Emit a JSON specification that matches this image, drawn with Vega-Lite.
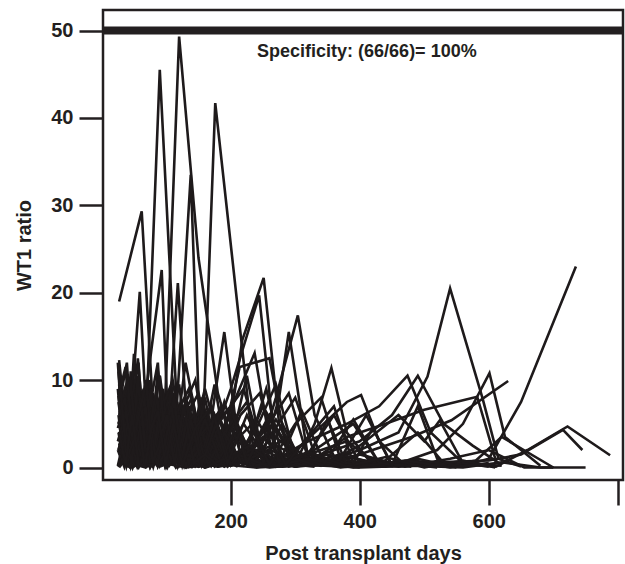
{
"$schema": "https://vega.github.io/schema/vega-lite/v6.json",
"width": 520, "height": 470,
"autosize": "none",
"padding": {"left": 103, "top": 10, "right": 2, "bottom": 84},
"background": "white",
"config": {"view": {"stroke": "#231f20", "strokeWidth": 2.5}, "font": "Liberation Sans"},
"datasets": {
"threshold": [{"cut": 50, "label": "Specificity: (66/66)= 100%"}],
"wt1": [
{"p":1,"d":27,"v":4.1},{"p":1,"d":41,"v":0.5},{"p":1,"d":55,"v":6.0},{"p":1,"d":69,"v":0.2},{"p":1,"d":83,"v":1.5},{"p":1,"d":97,"v":5.0},{"p":1,"d":120,"v":49.3},{"p":1,"d":150,"v":24.0},{"p":1,"d":180,"v":8.5},{"p":1,"d":210,"v":1.0},{"p":1,"d":240,"v":0.2},{"p":1,"d":300,"v":0.5},
{"p":2,"d":26,"v":8.2},{"p":2,"d":40,"v":0.3},{"p":2,"d":54,"v":5.5},{"p":2,"d":67,"v":2.0},{"p":2,"d":90,"v":45.5},{"p":2,"d":121,"v":0.5},{"p":2,"d":150,"v":6.0},{"p":2,"d":180,"v":0.2},{"p":2,"d":240,"v":0.8},{"p":2,"d":330,"v":0.1},
{"p":3,"d":28,"v":3.0},{"p":3,"d":42,"v":6.5},{"p":3,"d":56,"v":0.4},{"p":3,"d":70,"v":4.0},{"p":3,"d":90,"v":7.5},{"p":3,"d":120,"v":1.0},{"p":3,"d":155,"v":0.3},{"p":3,"d":176,"v":41.7},{"p":3,"d":235,"v":2.0},{"p":3,"d":260,"v":0.3},{"p":3,"d":320,"v":0.6},{"p":3,"d":400,"v":0.1},
{"p":4,"d":27,"v":6.0},{"p":4,"d":41,"v":9.5},{"p":4,"d":55,"v":1.4},{"p":4,"d":69,"v":7.2},{"p":4,"d":83,"v":0.3},{"p":4,"d":97,"v":5.1},{"p":4,"d":111,"v":0.4},{"p":4,"d":138,"v":33.5},{"p":4,"d":152,"v":4.0},{"p":4,"d":180,"v":6.2},{"p":4,"d":210,"v":0.5},{"p":4,"d":270,"v":1.0},
{"p":5,"d":27,"v":19.0},{"p":5,"d":62,"v":29.3},{"p":5,"d":80,"v":6.0},{"p":5,"d":95,"v":9.0},{"p":5,"d":110,"v":0.5},{"p":5,"d":130,"v":5.5},{"p":5,"d":160,"v":0.2},{"p":5,"d":200,"v":4.5},{"p":5,"d":250,"v":0.3},
{"p":6,"d":26,"v":5.0},{"p":6,"d":40,"v":8.0},{"p":6,"d":55,"v":0.5},{"p":6,"d":70,"v":9.5},{"p":6,"d":93,"v":22.6},{"p":6,"d":105,"v":1.0},{"p":6,"d":120,"v":7.0},{"p":6,"d":150,"v":0.5},{"p":6,"d":190,"v":1.8},{"p":6,"d":240,"v":0.1},
{"p":7,"d":28,"v":10.0},{"p":7,"d":42,"v":1.0},{"p":7,"d":56,"v":12.5},{"p":7,"d":70,"v":0.5},{"p":7,"d":85,"v":8.0},{"p":7,"d":100,"v":0.4},{"p":7,"d":118,"v":21.1},{"p":7,"d":135,"v":1.5},{"p":7,"d":160,"v":9.0},{"p":7,"d":190,"v":0.6},{"p":7,"d":230,"v":2.0},{"p":7,"d":280,"v":0.2},
{"p":8,"d":27,"v":12.3},{"p":8,"d":41,"v":2.0},{"p":8,"d":59,"v":20.1},{"p":8,"d":73,"v":0.5},{"p":8,"d":87,"v":11.0},{"p":8,"d":101,"v":0.5},{"p":8,"d":115,"v":7.0},{"p":8,"d":140,"v":0.3},{"p":8,"d":175,"v":5.0},{"p":8,"d":220,"v":0.2},
{"p":9,"d":30,"v":4.0},{"p":9,"d":44,"v":7.0},{"p":9,"d":58,"v":0.5},{"p":9,"d":72,"v":6.0},{"p":9,"d":90,"v":0.8},{"p":9,"d":110,"v":8.5},{"p":9,"d":135,"v":1.0},{"p":9,"d":160,"v":6.5},{"p":9,"d":190,"v":0.5},{"p":9,"d":218,"v":14.6},{"p":9,"d":251,"v":21.7},{"p":9,"d":275,"v":5.0},{"p":9,"d":300,"v":0.5},{"p":9,"d":340,"v":0.2},
{"p":10,"d":29,"v":0.5},{"p":10,"d":43,"v":5.5},{"p":10,"d":57,"v":9.0},{"p":10,"d":71,"v":0.6},{"p":10,"d":85,"v":6.0},{"p":10,"d":105,"v":0.5},{"p":10,"d":130,"v":7.5},{"p":10,"d":160,"v":0.5},{"p":10,"d":200,"v":9.0},{"p":10,"d":244,"v":19.7},{"p":10,"d":270,"v":1.5},{"p":10,"d":310,"v":0.3},
{"p":11,"d":28,"v":6.5},{"p":11,"d":42,"v":0.5},{"p":11,"d":56,"v":8.0},{"p":11,"d":70,"v":1.5},{"p":11,"d":90,"v":10.5},{"p":11,"d":110,"v":0.5},{"p":11,"d":130,"v":12.0},{"p":11,"d":160,"v":0.5},{"p":11,"d":190,"v":15.5},{"p":11,"d":215,"v":1.0},{"p":11,"d":250,"v":7.0},{"p":11,"d":300,"v":0.5},{"p":11,"d":360,"v":0.2},
{"p":12,"d":30,"v":3.5},{"p":12,"d":44,"v":0.3},{"p":12,"d":60,"v":6.0},{"p":12,"d":80,"v":0.5},{"p":12,"d":100,"v":5.0},{"p":12,"d":130,"v":8.0},{"p":12,"d":160,"v":0.5},{"p":12,"d":200,"v":6.0},{"p":12,"d":240,"v":0.5},{"p":12,"d":270,"v":8.0},{"p":12,"d":304,"v":17.4},{"p":12,"d":330,"v":6.0},{"p":12,"d":365,"v":0.5},{"p":12,"d":420,"v":0.8},{"p":12,"d":480,"v":0.1},
{"p":13,"d":27,"v":1.5},{"p":13,"d":41,"v":4.0},{"p":13,"d":55,"v":0.2},{"p":13,"d":69,"v":5.5},{"p":13,"d":90,"v":0.5},{"p":13,"d":120,"v":6.5},{"p":13,"d":150,"v":0.5},{"p":13,"d":180,"v":5.0},{"p":13,"d":220,"v":9.0},{"p":13,"d":250,"v":1.5},{"p":13,"d":275,"v":8.0},{"p":13,"d":290,"v":15.5},{"p":13,"d":320,"v":1.0},{"p":13,"d":370,"v":0.2},{"p":13,"d":430,"v":0.4},
{"p":14,"d":29,"v":0.2},{"p":14,"d":43,"v":3.5},{"p":14,"d":57,"v":0.3},{"p":14,"d":71,"v":4.0},{"p":14,"d":90,"v":0.5},{"p":14,"d":120,"v":5.0},{"p":14,"d":150,"v":0.3},{"p":14,"d":180,"v":4.5},{"p":14,"d":220,"v":0.5},{"p":14,"d":260,"v":6.0},{"p":14,"d":300,"v":0.5},{"p":14,"d":330,"v":5.0},{"p":14,"d":356,"v":11.4},{"p":14,"d":380,"v":4.0},{"p":14,"d":420,"v":0.3},{"p":14,"d":480,"v":0.5},
{"p":15,"d":31,"v":2.5},{"p":15,"d":45,"v":5.0},{"p":15,"d":59,"v":0.3},{"p":15,"d":73,"v":4.0},{"p":15,"d":90,"v":0.5},{"p":15,"d":120,"v":3.5},{"p":15,"d":150,"v":0.2},{"p":15,"d":180,"v":3.0},{"p":15,"d":220,"v":0.5},{"p":15,"d":270,"v":2.5},{"p":15,"d":330,"v":0.3},{"p":15,"d":400,"v":2.0},{"p":15,"d":460,"v":4.0},{"p":15,"d":505,"v":10.4},{"p":15,"d":540,"v":20.5},{"p":15,"d":590,"v":8.0},{"p":15,"d":615,"v":1.0},{"p":15,"d":650,"v":0.1},
{"p":16,"d":28,"v":1.2},{"p":16,"d":42,"v":3.0},{"p":16,"d":56,"v":0.2},{"p":16,"d":70,"v":2.5},{"p":16,"d":90,"v":0.3},{"p":16,"d":120,"v":2.0},{"p":16,"d":160,"v":0.2},{"p":16,"d":200,"v":1.5},{"p":16,"d":260,"v":0.2},{"p":16,"d":330,"v":1.0},{"p":16,"d":400,"v":0.1},{"p":16,"d":480,"v":0.8},{"p":16,"d":560,"v":0.2},{"p":16,"d":600,"v":1.0},{"p":16,"d":650,"v":7.5},{"p":16,"d":735,"v":23.0},
{"p":17,"d":30,"v":3.0},{"p":17,"d":44,"v":6.0},{"p":17,"d":58,"v":0.3},{"p":17,"d":72,"v":5.0},{"p":17,"d":90,"v":0.5},{"p":17,"d":120,"v":4.0},{"p":17,"d":160,"v":0.5},{"p":17,"d":200,"v":3.5},{"p":17,"d":260,"v":0.5},{"p":17,"d":320,"v":3.0},{"p":17,"d":380,"v":5.0},{"p":17,"d":430,"v":7.0},{"p":17,"d":474,"v":10.5},{"p":17,"d":510,"v":4.0},{"p":17,"d":560,"v":0.5},{"p":17,"d":620,"v":0.2},
{"p":18,"d":27,"v":0.2},{"p":18,"d":41,"v":2.0},{"p":18,"d":55,"v":0.1},{"p":18,"d":69,"v":3.0},{"p":18,"d":90,"v":0.3},{"p":18,"d":130,"v":2.5},{"p":18,"d":170,"v":0.2},{"p":18,"d":220,"v":2.0},{"p":18,"d":280,"v":0.2},{"p":18,"d":340,"v":1.5},{"p":18,"d":400,"v":3.0},{"p":18,"d":450,"v":6.0},{"p":18,"d":490,"v":10.5},{"p":18,"d":530,"v":5.0},{"p":18,"d":575,"v":2.5},{"p":18,"d":620,"v":0.3},
{"p":19,"d":29,"v":1.0},{"p":19,"d":43,"v":3.5},{"p":19,"d":57,"v":0.2},{"p":19,"d":71,"v":2.5},{"p":19,"d":90,"v":0.2},{"p":19,"d":130,"v":2.0},{"p":19,"d":180,"v":0.1},{"p":19,"d":240,"v":1.5},{"p":19,"d":300,"v":0.1},{"p":19,"d":380,"v":1.2},{"p":19,"d":450,"v":0.2},{"p":19,"d":520,"v":2.0},{"p":19,"d":560,"v":5.0},{"p":19,"d":601,"v":10.8},{"p":19,"d":625,"v":3.5},{"p":19,"d":680,"v":0.2},
{"p":20,"d":30,"v":2.0},{"p":20,"d":44,"v":0.2},{"p":20,"d":58,"v":3.0},{"p":20,"d":72,"v":0.3},{"p":20,"d":90,"v":2.5},{"p":20,"d":130,"v":0.3},{"p":20,"d":170,"v":2.0},{"p":20,"d":230,"v":0.2},{"p":20,"d":290,"v":1.5},{"p":20,"d":350,"v":0.2},{"p":20,"d":420,"v":2.0},{"p":20,"d":480,"v":3.5},{"p":20,"d":542,"v":5.4},{"p":20,"d":630,"v":9.9},
{"p":21,"d":28,"v":0.5},{"p":21,"d":42,"v":1.5},{"p":21,"d":56,"v":0.1},{"p":21,"d":70,"v":1.0},{"p":21,"d":90,"v":0.1},{"p":21,"d":130,"v":1.2},{"p":21,"d":180,"v":0.1},{"p":21,"d":240,"v":0.8},{"p":21,"d":300,"v":0.1},{"p":21,"d":380,"v":0.6},{"p":21,"d":460,"v":0.1},{"p":21,"d":540,"v":0.5},{"p":21,"d":611,"v":0.1},{"p":21,"d":660,"v":2.0},{"p":21,"d":722,"v":4.7},{"p":21,"d":788,"v":1.4},
{"p":22,"d":31,"v":1.0},{"p":22,"d":45,"v":0.1},{"p":22,"d":59,"v":1.8},{"p":22,"d":73,"v":0.2},{"p":22,"d":100,"v":1.2},{"p":22,"d":150,"v":0.1},{"p":22,"d":210,"v":1.0},{"p":22,"d":280,"v":0.1},{"p":22,"d":360,"v":0.7},{"p":22,"d":440,"v":0.1},{"p":22,"d":520,"v":0.6},{"p":22,"d":600,"v":0.8},{"p":22,"d":650,"v":1.5},{"p":22,"d":715,"v":4.3},{"p":22,"d":745,"v":2.0},
{"p":23,"d":27,"v":0.8},{"p":23,"d":41,"v":0.1},{"p":23,"d":55,"v":1.0},{"p":23,"d":69,"v":0.1},{"p":23,"d":90,"v":0.6},{"p":23,"d":130,"v":0.0},{"p":23,"d":180,"v":0.4},{"p":23,"d":240,"v":0.0},{"p":23,"d":320,"v":0.3},{"p":23,"d":400,"v":0.0},{"p":23,"d":480,"v":0.2},{"p":23,"d":560,"v":0.0},{"p":23,"d":620,"v":0.6},{"p":23,"d":680,"v":0.0},{"p":23,"d":750,"v":0.0},
{"p":24,"d":29,"v":2.5},{"p":24,"d":43,"v":0.2},{"p":24,"d":57,"v":3.5},{"p":24,"d":71,"v":0.3},{"p":24,"d":100,"v":2.0},{"p":24,"d":150,"v":0.2},{"p":24,"d":200,"v":1.5},{"p":24,"d":270,"v":0.1},{"p":24,"d":340,"v":1.0},{"p":24,"d":410,"v":0.1},{"p":24,"d":470,"v":0.6},{"p":24,"d":530,"v":0.1},{"p":24,"d":580,"v":0.8},{"p":24,"d":620,"v":3.5},{"p":24,"d":700,"v":0.0},
{"p":25,"d":30,"v":1.5},{"p":25,"d":44,"v":4.0},{"p":25,"d":58,"v":0.2},{"p":25,"d":72,"v":3.0},{"p":25,"d":100,"v":0.3},{"p":25,"d":150,"v":2.5},{"p":25,"d":200,"v":0.2},{"p":25,"d":260,"v":2.0},{"p":25,"d":330,"v":0.2},{"p":25,"d":400,"v":1.5},{"p":25,"d":470,"v":0.1},{"p":25,"d":540,"v":1.0},{"p":25,"d":600,"v":2.0},{"p":25,"d":655,"v":0.0},{"p":25,"d":700,"v":0.0},
{"p":26,"d":28,"v":4.5},{"p":26,"d":40,"v":0.5},{"p":26,"d":52,"v":7.0},{"p":26,"d":64,"v":1.0},{"p":26,"d":76,"v":5.5},{"p":26,"d":90,"v":0.3},{"p":26,"d":110,"v":4.0},{"p":26,"d":140,"v":0.5},{"p":26,"d":170,"v":5.0},{"p":26,"d":210,"v":0.5},{"p":26,"d":260,"v":4.0},{"p":26,"d":320,"v":0.5},{"p":26,"d":380,"v":3.5},{"p":26,"d":440,"v":5.0},{"p":26,"d":500,"v":6.6},{"p":26,"d":582,"v":8.1},{"p":26,"d":612,"v":0.5},
{"p":27,"d":26,"v":7.5},{"p":27,"d":38,"v":1.0},{"p":27,"d":50,"v":9.0},{"p":27,"d":62,"v":2.0},{"p":27,"d":74,"v":10.0},{"p":27,"d":86,"v":1.0},{"p":27,"d":100,"v":8.0},{"p":27,"d":120,"v":1.0},{"p":27,"d":150,"v":6.0},{"p":27,"d":180,"v":1.0},{"p":27,"d":214,"v":11.5},{"p":27,"d":260,"v":12.5},{"p":27,"d":290,"v":1.0},{"p":27,"d":330,"v":1.5},{"p":27,"d":380,"v":0.2},
{"p":28,"d":25,"v":9.0},{"p":28,"d":35,"v":0.5},{"p":28,"d":45,"v":11.0},{"p":28,"d":55,"v":1.5},{"p":28,"d":65,"v":8.0},{"p":28,"d":75,"v":0.5},{"p":28,"d":88,"v":6.0},{"p":28,"d":102,"v":1.0},{"p":28,"d":120,"v":7.0},{"p":28,"d":150,"v":0.5},{"p":28,"d":185,"v":4.0},{"p":28,"d":237,"v":13.1},{"p":28,"d":265,"v":1.0},{"p":28,"d":300,"v":0.2},
{"p":29,"d":27,"v":5.5},{"p":29,"d":37,"v":8.5},{"p":29,"d":47,"v":0.5},{"p":29,"d":57,"v":6.5},{"p":29,"d":67,"v":0.3},{"p":29,"d":77,"v":7.0},{"p":29,"d":90,"v":1.0},{"p":29,"d":105,"v":9.0},{"p":29,"d":122,"v":0.5},{"p":29,"d":145,"v":5.5},{"p":29,"d":175,"v":0.5},{"p":29,"d":210,"v":1.0},
{"p":30,"d":26,"v":3.0},{"p":30,"d":36,"v":6.0},{"p":30,"d":46,"v":0.2},{"p":30,"d":56,"v":4.5},{"p":30,"d":66,"v":7.5},{"p":30,"d":76,"v":0.5},{"p":30,"d":86,"v":5.0},{"p":30,"d":98,"v":0.2},{"p":30,"d":115,"v":3.5},{"p":30,"d":140,"v":0.3},{"p":30,"d":170,"v":3.0},{"p":30,"d":200,"v":0.2},
{"p":31,"d":30,"v":10.5},{"p":31,"d":40,"v":1.0},{"p":31,"d":50,"v":13.0},{"p":31,"d":60,"v":2.0},{"p":31,"d":70,"v":9.5},{"p":31,"d":80,"v":0.5},{"p":31,"d":95,"v":7.0},{"p":31,"d":110,"v":10.0},{"p":31,"d":130,"v":1.0},{"p":31,"d":155,"v":8.0},{"p":31,"d":180,"v":0.5},{"p":31,"d":220,"v":5.0},{"p":31,"d":260,"v":0.5},
{"p":32,"d":25,"v":0.2},{"p":32,"d":35,"v":3.5},{"p":32,"d":45,"v":0.1},{"p":32,"d":55,"v":2.5},{"p":32,"d":65,"v":5.0},{"p":32,"d":75,"v":0.2},{"p":32,"d":85,"v":3.0},{"p":32,"d":100,"v":6.5},{"p":32,"d":120,"v":0.3},{"p":32,"d":150,"v":4.0},{"p":32,"d":190,"v":0.2},{"p":32,"d":240,"v":2.5},{"p":32,"d":300,"v":0.1},{"p":32,"d":370,"v":1.5},{"p":32,"d":440,"v":0.1},
{"p":33,"d":28,"v":6.0},{"p":33,"d":38,"v":0.5},{"p":33,"d":48,"v":8.5},{"p":33,"d":58,"v":1.0},{"p":33,"d":68,"v":6.5},{"p":33,"d":78,"v":0.2},{"p":33,"d":90,"v":4.5},{"p":33,"d":105,"v":0.5},{"p":33,"d":125,"v":5.0},{"p":33,"d":150,"v":8.5},{"p":33,"d":175,"v":1.0},{"p":33,"d":205,"v":6.0},{"p":33,"d":235,"v":0.5},{"p":33,"d":270,"v":4.5},{"p":33,"d":310,"v":0.3},
{"p":34,"d":27,"v":2.5},{"p":34,"d":37,"v":5.0},{"p":34,"d":47,"v":0.3},{"p":34,"d":57,"v":7.0},{"p":34,"d":67,"v":0.5},{"p":34,"d":77,"v":5.5},{"p":34,"d":90,"v":0.3},{"p":34,"d":110,"v":6.0},{"p":34,"d":135,"v":0.3},{"p":34,"d":165,"v":4.0},{"p":34,"d":200,"v":7.0},{"p":34,"d":230,"v":0.5},{"p":34,"d":270,"v":5.5},{"p":34,"d":310,"v":0.5},{"p":34,"d":360,"v":6.0},{"p":34,"d":400,"v":0.5},{"p":34,"d":450,"v":0.2},
{"p":35,"d":26,"v":4.0},{"p":35,"d":36,"v":0.2},{"p":35,"d":46,"v":5.5},{"p":35,"d":56,"v":0.3},{"p":35,"d":66,"v":4.5},{"p":35,"d":76,"v":0.1},{"p":35,"d":86,"v":3.5},{"p":35,"d":100,"v":0.2},{"p":35,"d":120,"v":2.5},{"p":35,"d":145,"v":0.1},{"p":35,"d":175,"v":2.0},{"p":35,"d":210,"v":0.1},
{"p":36,"d":29,"v":8.0},{"p":36,"d":39,"v":12.0},{"p":36,"d":49,"v":1.0},{"p":36,"d":59,"v":9.0},{"p":36,"d":69,"v":0.5},{"p":36,"d":79,"v":8.5},{"p":36,"d":91,"v":0.5},{"p":36,"d":104,"v":6.0},{"p":36,"d":118,"v":0.3},{"p":36,"d":135,"v":5.0},{"p":36,"d":160,"v":0.3},
{"p":37,"d":25,"v":2.0},{"p":37,"d":35,"v":0.1},{"p":37,"d":45,"v":3.0},{"p":37,"d":55,"v":0.2},{"p":37,"d":65,"v":2.5},{"p":37,"d":75,"v":0.0},{"p":37,"d":85,"v":1.5},{"p":37,"d":100,"v":0.1},{"p":37,"d":120,"v":2.0},{"p":37,"d":150,"v":0.1},{"p":37,"d":190,"v":1.5},{"p":37,"d":240,"v":0.0},{"p":37,"d":300,"v":1.0},{"p":37,"d":370,"v":0.0},{"p":37,"d":450,"v":0.6},{"p":37,"d":520,"v":0.0},
{"p":38,"d":30,"v":5.0},{"p":38,"d":40,"v":8.0},{"p":38,"d":50,"v":0.5},{"p":38,"d":60,"v":6.0},{"p":38,"d":70,"v":0.2},{"p":38,"d":80,"v":4.5},{"p":38,"d":95,"v":8.0},{"p":38,"d":110,"v":0.5},{"p":38,"d":130,"v":7.5},{"p":38,"d":150,"v":0.5},{"p":38,"d":175,"v":9.5},{"p":38,"d":195,"v":1.0},{"p":38,"d":225,"v":10.5},{"p":38,"d":250,"v":1.0},{"p":38,"d":280,"v":0.2},
{"p":39,"d":27,"v":3.5},{"p":39,"d":37,"v":0.2},{"p":39,"d":47,"v":4.5},{"p":39,"d":57,"v":0.1},{"p":39,"d":67,"v":3.0},{"p":39,"d":77,"v":5.5},{"p":39,"d":90,"v":0.3},{"p":39,"d":105,"v":4.0},{"p":39,"d":125,"v":0.2},{"p":39,"d":150,"v":3.0},{"p":39,"d":180,"v":6.0},{"p":39,"d":210,"v":0.5},{"p":39,"d":250,"v":4.0},{"p":39,"d":290,"v":8.5},{"p":39,"d":320,"v":1.0},{"p":39,"d":350,"v":5.5},{"p":39,"d":380,"v":0.3},
{"p":40,"d":26,"v":11.0},{"p":40,"d":36,"v":2.5},{"p":40,"d":46,"v":9.5},{"p":40,"d":56,"v":0.5},{"p":40,"d":66,"v":7.0},{"p":40,"d":76,"v":10.0},{"p":40,"d":86,"v":1.0},{"p":40,"d":98,"v":6.5},{"p":40,"d":112,"v":0.3},{"p":40,"d":130,"v":4.5},{"p":40,"d":150,"v":0.2},
{"p":41,"d":28,"v":0.2},{"p":41,"d":38,"v":2.5},{"p":41,"d":48,"v":0.0},{"p":41,"d":58,"v":1.8},{"p":41,"d":68,"v":4.0},{"p":41,"d":78,"v":0.2},{"p":41,"d":88,"v":3.0},{"p":41,"d":100,"v":0.1},{"p":41,"d":118,"v":2.5},{"p":41,"d":140,"v":0.1},{"p":41,"d":170,"v":3.5},{"p":41,"d":200,"v":0.2},{"p":41,"d":240,"v":2.0},{"p":41,"d":290,"v":0.1},{"p":41,"d":350,"v":1.5},{"p":41,"d":420,"v":0.1},{"p":41,"d":490,"v":1.0},{"p":41,"d":550,"v":0.0},
{"p":42,"d":31,"v":6.5},{"p":42,"d":41,"v":0.5},{"p":42,"d":51,"v":7.5},{"p":42,"d":61,"v":0.3},{"p":42,"d":71,"v":5.0},{"p":42,"d":81,"v":8.0},{"p":42,"d":93,"v":0.5},{"p":42,"d":106,"v":5.5},{"p":42,"d":120,"v":9.5},{"p":42,"d":135,"v":0.5},{"p":42,"d":155,"v":6.0},{"p":42,"d":180,"v":0.5},{"p":42,"d":210,"v":4.0},{"p":42,"d":240,"v":0.2},
{"p":43,"d":25,"v":4.5},{"p":43,"d":35,"v":7.0},{"p":43,"d":45,"v":0.3},{"p":43,"d":55,"v":5.0},{"p":43,"d":65,"v":9.0},{"p":43,"d":75,"v":0.5},{"p":43,"d":85,"v":6.0},{"p":43,"d":95,"v":0.2},{"p":43,"d":110,"v":5.0},{"p":43,"d":130,"v":0.3},{"p":43,"d":150,"v":4.5},{"p":43,"d":175,"v":0.2},{"p":43,"d":200,"v":3.0},
{"p":44,"d":27,"v":1.5},{"p":44,"d":37,"v":4.0},{"p":44,"d":47,"v":6.5},{"p":44,"d":57,"v":0.2},{"p":44,"d":67,"v":4.0},{"p":44,"d":77,"v":0.1},{"p":44,"d":87,"v":2.5},{"p":44,"d":100,"v":5.0},{"p":44,"d":120,"v":0.2},{"p":44,"d":145,"v":3.5},{"p":44,"d":170,"v":0.2},{"p":44,"d":200,"v":2.5},{"p":44,"d":240,"v":5.5},{"p":44,"d":280,"v":0.5},{"p":44,"d":330,"v":4.0},{"p":44,"d":380,"v":7.5},{"p":44,"d":402,"v":8.3},{"p":44,"d":430,"v":3.0},{"p":44,"d":470,"v":0.3},
{"p":45,"d":29,"v":7.0},{"p":45,"d":39,"v":1.5},{"p":45,"d":49,"v":10.0},{"p":45,"d":59,"v":2.0},{"p":45,"d":69,"v":0.5},{"p":45,"d":79,"v":7.5},{"p":45,"d":89,"v":1.0},{"p":45,"d":100,"v":0.3},{"p":45,"d":115,"v":6.0},{"p":45,"d":135,"v":9.0},{"p":45,"d":160,"v":1.0},{"p":45,"d":185,"v":7.0},{"p":45,"d":210,"v":0.5},{"p":45,"d":245,"v":1.5},
{"p":46,"d":26,"v":2.0},{"p":46,"d":36,"v":4.5},{"p":46,"d":46,"v":0.1},{"p":46,"d":56,"v":3.5},{"p":46,"d":66,"v":6.0},{"p":46,"d":76,"v":0.3},{"p":46,"d":86,"v":4.5},{"p":46,"d":96,"v":7.0},{"p":46,"d":108,"v":0.5},{"p":46,"d":125,"v":5.0},{"p":46,"d":150,"v":0.3},{"p":46,"d":175,"v":4.0},{"p":46,"d":210,"v":0.2},{"p":46,"d":250,"v":3.5},{"p":46,"d":290,"v":0.2},{"p":46,"d":340,"v":2.5},{"p":46,"d":390,"v":5.0},{"p":46,"d":430,"v":0.5},{"p":46,"d":480,"v":0.2},
{"p":47,"d":28,"v":5.0},{"p":47,"d":38,"v":9.5},{"p":47,"d":48,"v":1.0},{"p":47,"d":58,"v":7.0},{"p":47,"d":68,"v":0.5},{"p":47,"d":78,"v":6.0},{"p":47,"d":88,"v":0.2},{"p":47,"d":100,"v":4.5},{"p":47,"d":112,"v":8.5},{"p":47,"d":125,"v":0.5},{"p":47,"d":140,"v":6.0},{"p":47,"d":165,"v":0.3},
{"p":48,"d":25,"v":0.1},{"p":48,"d":35,"v":1.5},{"p":48,"d":45,"v":0.0},{"p":48,"d":55,"v":1.0},{"p":48,"d":65,"v":2.5},{"p":48,"d":75,"v":0.1},{"p":48,"d":85,"v":1.8},{"p":48,"d":100,"v":0.0},{"p":48,"d":125,"v":1.2},{"p":48,"d":160,"v":0.0},{"p":48,"d":200,"v":0.9},{"p":48,"d":260,"v":0.0},{"p":48,"d":330,"v":0.5},{"p":48,"d":400,"v":0.0},
{"p":49,"d":30,"v":3.0},{"p":49,"d":40,"v":6.0},{"p":49,"d":50,"v":0.2},{"p":49,"d":60,"v":8.0},{"p":49,"d":70,"v":1.0},{"p":49,"d":80,"v":6.5},{"p":49,"d":92,"v":0.3},{"p":49,"d":104,"v":5.5},{"p":49,"d":118,"v":0.2},{"p":49,"d":135,"v":4.0},{"p":49,"d":155,"v":7.0},{"p":49,"d":180,"v":0.5},{"p":49,"d":205,"v":5.5},{"p":49,"d":235,"v":0.3},{"p":49,"d":265,"v":4.0},{"p":49,"d":300,"v":8.0},{"p":49,"d":335,"v":0.5},{"p":49,"d":370,"v":0.2},
{"p":50,"d":27,"v":9.5},{"p":50,"d":37,"v":1.5},{"p":50,"d":47,"v":8.0},{"p":50,"d":57,"v":12.0},{"p":50,"d":67,"v":1.0},{"p":50,"d":77,"v":3.5},{"p":50,"d":87,"v":7.0},{"p":50,"d":99,"v":0.3},{"p":50,"d":112,"v":5.0},{"p":50,"d":128,"v":0.2},{"p":50,"d":145,"v":3.5},{"p":50,"d":170,"v":0.2},
{"p":51,"d":26,"v":6.0},{"p":51,"d":36,"v":0.5},{"p":51,"d":46,"v":5.0},{"p":51,"d":56,"v":0.2},{"p":51,"d":66,"v":4.0},{"p":51,"d":76,"v":7.5},{"p":51,"d":86,"v":0.5},{"p":51,"d":98,"v":5.0},{"p":51,"d":110,"v":0.3},{"p":51,"d":125,"v":6.5},{"p":51,"d":145,"v":10.0},{"p":51,"d":165,"v":1.0},{"p":51,"d":190,"v":7.5},{"p":51,"d":220,"v":0.5},{"p":51,"d":255,"v":9.0},{"p":51,"d":280,"v":1.0},{"p":51,"d":310,"v":0.3},
{"p":52,"d":29,"v":0.2},{"p":52,"d":39,"v":3.0},{"p":52,"d":49,"v":5.5},{"p":52,"d":59,"v":0.3},{"p":52,"d":69,"v":0.1},{"p":52,"d":79,"v":3.5},{"p":52,"d":90,"v":6.0},{"p":52,"d":102,"v":0.2},{"p":52,"d":118,"v":4.0},{"p":52,"d":140,"v":0.2},{"p":52,"d":165,"v":3.0},{"p":52,"d":195,"v":0.1},{"p":52,"d":230,"v":2.0},{"p":52,"d":270,"v":0.1},{"p":52,"d":320,"v":1.5},{"p":52,"d":380,"v":3.0},{"p":52,"d":430,"v":0.2},{"p":52,"d":490,"v":4.0},{"p":52,"d":530,"v":0.5},
{"p":53,"d":31,"v":4.0},{"p":53,"d":41,"v":7.0},{"p":53,"d":51,"v":0.5},{"p":53,"d":61,"v":5.5},{"p":53,"d":71,"v":9.0},{"p":53,"d":81,"v":1.0},{"p":53,"d":91,"v":7.0},{"p":53,"d":103,"v":0.5},{"p":53,"d":117,"v":6.0},{"p":53,"d":133,"v":1.0},{"p":53,"d":150,"v":5.5},{"p":53,"d":170,"v":0.3},{"p":53,"d":195,"v":4.5},{"p":53,"d":225,"v":7.5},{"p":53,"d":250,"v":0.5},{"p":53,"d":280,"v":5.0},{"p":53,"d":310,"v":0.5},
{"p":54,"d":25,"v":3.0},{"p":54,"d":35,"v":5.5},{"p":54,"d":45,"v":8.0},{"p":54,"d":55,"v":0.5},{"p":54,"d":65,"v":6.0},{"p":54,"d":75,"v":0.2},{"p":54,"d":85,"v":5.0},{"p":54,"d":95,"v":8.5},{"p":54,"d":107,"v":1.0},{"p":54,"d":120,"v":6.0},{"p":54,"d":140,"v":0.5},{"p":54,"d":160,"v":8.0},{"p":54,"d":180,"v":0.5},{"p":54,"d":205,"v":5.0},{"p":54,"d":230,"v":0.3},
{"p":55,"d":28,"v":2.5},{"p":55,"d":38,"v":0.1},{"p":55,"d":48,"v":3.5},{"p":55,"d":58,"v":0.2},{"p":55,"d":68,"v":0.0},{"p":55,"d":78,"v":2.0},{"p":55,"d":88,"v":4.0},{"p":55,"d":100,"v":0.1},{"p":55,"d":115,"v":3.0},{"p":55,"d":135,"v":0.1},{"p":55,"d":160,"v":2.0},{"p":55,"d":190,"v":0.1},{"p":55,"d":230,"v":1.5},{"p":55,"d":280,"v":3.0},{"p":55,"d":340,"v":0.2},{"p":55,"d":400,"v":2.5},{"p":55,"d":460,"v":6.0},{"p":55,"d":500,"v":3.0},{"p":55,"d":524,"v":5.4},{"p":55,"d":560,"v":0.5},{"p":55,"d":600,"v":0.1},
{"p":56,"d":27,"v":8.5},{"p":56,"d":37,"v":11.5},{"p":56,"d":47,"v":1.0},{"p":56,"d":57,"v":9.0},{"p":56,"d":67,"v":0.5},{"p":56,"d":77,"v":8.0},{"p":56,"d":87,"v":12.0},{"p":56,"d":97,"v":1.0},{"p":56,"d":108,"v":9.5},{"p":56,"d":120,"v":0.5},{"p":56,"d":135,"v":7.0},{"p":56,"d":150,"v":0.5},{"p":56,"d":170,"v":5.0},{"p":56,"d":195,"v":0.3},
{"p":57,"d":30,"v":1.5},{"p":57,"d":40,"v":4.0},{"p":57,"d":50,"v":0.1},{"p":57,"d":60,"v":0.5},{"p":57,"d":70,"v":3.0},{"p":57,"d":80,"v":0.1},{"p":57,"d":90,"v":2.5},{"p":57,"d":102,"v":0.1},{"p":57,"d":116,"v":3.5},{"p":57,"d":132,"v":0.1},{"p":57,"d":150,"v":2.0},{"p":57,"d":175,"v":0.1},{"p":57,"d":210,"v":1.5},{"p":57,"d":260,"v":0.1},{"p":57,"d":320,"v":1.0},{"p":57,"d":390,"v":0.0},{"p":57,"d":470,"v":0.8},{"p":57,"d":540,"v":0.0},{"p":57,"d":600,"v":0.5},
{"p":58,"d":26,"v":5.0},{"p":58,"d":36,"v":8.0},{"p":58,"d":46,"v":0.5},{"p":58,"d":56,"v":10.5},{"p":58,"d":66,"v":1.0},{"p":58,"d":76,"v":9.0},{"p":58,"d":86,"v":0.5},{"p":58,"d":96,"v":6.5},{"p":58,"d":108,"v":0.5},{"p":58,"d":122,"v":5.5},{"p":58,"d":140,"v":8.0},{"p":58,"d":160,"v":0.5},{"p":58,"d":180,"v":6.0},{"p":58,"d":205,"v":0.5},{"p":58,"d":240,"v":4.5},{"p":58,"d":270,"v":9.5},{"p":58,"d":300,"v":1.0},{"p":58,"d":330,"v":0.3},
{"p":59,"d":29,"v":6.5},{"p":59,"d":39,"v":0.3},{"p":59,"d":49,"v":4.5},{"p":59,"d":59,"v":7.5},{"p":59,"d":69,"v":0.5},{"p":59,"d":79,"v":0.1},{"p":59,"d":89,"v":5.0},{"p":59,"d":101,"v":0.2},{"p":59,"d":115,"v":4.0},{"p":59,"d":130,"v":0.2},{"p":59,"d":150,"v":3.5},{"p":59,"d":175,"v":5.5},{"p":59,"d":200,"v":0.3},{"p":59,"d":235,"v":4.0},{"p":59,"d":270,"v":0.2},
{"p":60,"d":25,"v":12.0},{"p":60,"d":35,"v":1.0},{"p":60,"d":45,"v":10.0},{"p":60,"d":55,"v":1.5},{"p":60,"d":65,"v":8.5},{"p":60,"d":75,"v":0.5},{"p":60,"d":85,"v":9.0},{"p":60,"d":95,"v":1.0},{"p":60,"d":107,"v":6.5},{"p":60,"d":120,"v":0.3},{"p":60,"d":140,"v":5.0},{"p":60,"d":165,"v":0.3},{"p":60,"d":190,"v":4.0},{"p":60,"d":220,"v":0.2},
{"p":61,"d":28,"v":3.5},{"p":61,"d":38,"v":6.5},{"p":61,"d":48,"v":0.2},{"p":61,"d":58,"v":4.0},{"p":61,"d":68,"v":7.0},{"p":61,"d":78,"v":0.5},{"p":61,"d":88,"v":5.5},{"p":61,"d":100,"v":0.3},{"p":61,"d":115,"v":5.0},{"p":61,"d":135,"v":0.5},{"p":61,"d":160,"v":5.5},{"p":61,"d":185,"v":0.5},{"p":61,"d":215,"v":6.0},{"p":61,"d":245,"v":8.5},{"p":61,"d":275,"v":0.5},{"p":61,"d":310,"v":6.5},{"p":61,"d":345,"v":0.5},{"p":61,"d":390,"v":5.5},{"p":61,"d":430,"v":0.5},{"p":61,"d":470,"v":0.2},
{"p":62,"d":27,"v":0.0},{"p":62,"d":37,"v":1.0},{"p":62,"d":47,"v":2.5},{"p":62,"d":57,"v":0.1},{"p":62,"d":67,"v":1.5},{"p":62,"d":77,"v":3.0},{"p":62,"d":87,"v":0.1},{"p":62,"d":100,"v":2.0},{"p":62,"d":115,"v":0.0},{"p":62,"d":135,"v":1.5},{"p":62,"d":160,"v":0.0},{"p":62,"d":190,"v":1.0},{"p":62,"d":230,"v":2.5},{"p":62,"d":270,"v":0.1},{"p":62,"d":320,"v":1.8},{"p":62,"d":380,"v":0.1},{"p":62,"d":440,"v":1.2},{"p":62,"d":500,"v":0.0},{"p":62,"d":560,"v":0.8},{"p":62,"d":610,"v":0.0},
{"p":63,"d":30,"v":7.5},{"p":63,"d":40,"v":10.0},{"p":63,"d":50,"v":1.5},{"p":63,"d":60,"v":8.0},{"p":63,"d":70,"v":0.5},{"p":63,"d":80,"v":7.0},{"p":63,"d":90,"v":10.5},{"p":63,"d":100,"v":1.0},{"p":63,"d":112,"v":8.0},{"p":63,"d":125,"v":0.5},{"p":63,"d":140,"v":7.5},{"p":63,"d":155,"v":0.5},{"p":63,"d":175,"v":6.0},{"p":63,"d":200,"v":0.3},
{"p":64,"d":26,"v":2.0},{"p":64,"d":36,"v":5.0},{"p":64,"d":46,"v":0.3},{"p":64,"d":56,"v":6.5},{"p":64,"d":66,"v":0.2},{"p":64,"d":76,"v":4.5},{"p":64,"d":86,"v":0.1},{"p":64,"d":96,"v":4.0},{"p":64,"d":108,"v":7.0},{"p":64,"d":122,"v":0.5},{"p":64,"d":138,"v":5.5},{"p":64,"d":155,"v":0.3},{"p":64,"d":175,"v":4.5},{"p":64,"d":200,"v":7.0},{"p":64,"d":225,"v":0.5},{"p":64,"d":255,"v":5.0},{"p":64,"d":285,"v":0.3},{"p":64,"d":320,"v":3.5},{"p":64,"d":360,"v":7.0},{"p":64,"d":390,"v":0.5},{"p":64,"d":420,"v":4.5},{"p":64,"d":450,"v":0.2},
{"p":65,"d":29,"v":9.0},{"p":65,"d":39,"v":1.0},{"p":65,"d":49,"v":3.0},{"p":65,"d":59,"v":6.5},{"p":65,"d":69,"v":10.0},{"p":65,"d":79,"v":0.5},{"p":65,"d":89,"v":2.5},{"p":65,"d":101,"v":6.0},{"p":65,"d":113,"v":0.3},{"p":65,"d":127,"v":7.0},{"p":65,"d":143,"v":0.5},{"p":65,"d":160,"v":1.5},{"p":65,"d":180,"v":0.2},
{"p":66,"d":27,"v":4.0},{"p":66,"d":37,"v":0.3},{"p":66,"d":47,"v":6.0},{"p":66,"d":57,"v":0.5},{"p":66,"d":67,"v":0.1},{"p":66,"d":77,"v":4.5},{"p":66,"d":87,"v":6.5},{"p":66,"d":99,"v":0.3},{"p":66,"d":111,"v":5.0},{"p":66,"d":125,"v":0.2},{"p":66,"d":145,"v":4.5},{"p":66,"d":170,"v":7.0},{"p":66,"d":195,"v":0.5},{"p":66,"d":225,"v":6.0},{"p":66,"d":260,"v":0.3},{"p":66,"d":300,"v":5.0},{"p":66,"d":340,"v":8.0},{"p":66,"d":370,"v":1.0},{"p":66,"d":410,"v":6.0},{"p":66,"d":450,"v":0.3},{"p":66,"d":490,"v":7.0},{"p":66,"d":520,"v":1.0},{"p":66,"d":550,"v":0.1}
]
},
"layer": [
{
"data": {"name": "wt1"},
"mark": {"type": "line", "color": "#1e1a1b", "strokeWidth": 2.6, "clip": true, "strokeJoin": "miter"},
"encoding": {
"x": {"field": "d", "type": "quantitative",
"scale": {"domain": [2, 808], "nice": false, "zero": false},
"axis": {"values": [200, 400, 600, 800], "labelExpr": "datum.value == 800 ? '' : datum.label",
"domain": false, "grid": false, "tickSize": 25, "tickWidth": 2.5, "tickColor": "#231f20",
"labelFontSize": 20, "labelFontWeight": "bold", "labelColor": "#231f20", "labelPadding": 6,
"title": "Post transplant days", "titleFontSize": 20, "titleFontWeight": "bold", "titleColor": "#231f20", "titlePadding": 12}},
"y": {"field": "v", "type": "quantitative",
"scale": {"domain": [-1.43, 52.35], "nice": false, "zero": false},
"axis": {"values": [0, 10, 20, 30, 40, 50],
"domain": false, "grid": false, "tickSize": 24, "tickWidth": 2.5, "tickColor": "#231f20",
"labelFontSize": 20, "labelFontWeight": "bold", "labelColor": "#231f20", "labelPadding": 6,
"title": "WT1 ratio", "titleFontSize": 20, "titleFontWeight": "bold", "titleColor": "#231f20", "titlePadding": 16}},
"detail": {"field": "p", "type": "nominal"}
}
},
{
"data": {"name": "threshold"},
"mark": {"type": "rule", "color": "#231f20", "strokeWidth": 8},
"encoding": {"y": {"field": "cut", "type": "quantitative"}}
},
{
"data": {"name": "threshold"},
"mark": {"type": "text", "fontSize": 18, "fontWeight": "bold", "color": "#231f20", "align": "center", "baseline": "middle"},
"encoding": {"x": {"datum": 411}, "y": {"datum": 47.5}, "text": {"field": "label"}}
}
]
}
